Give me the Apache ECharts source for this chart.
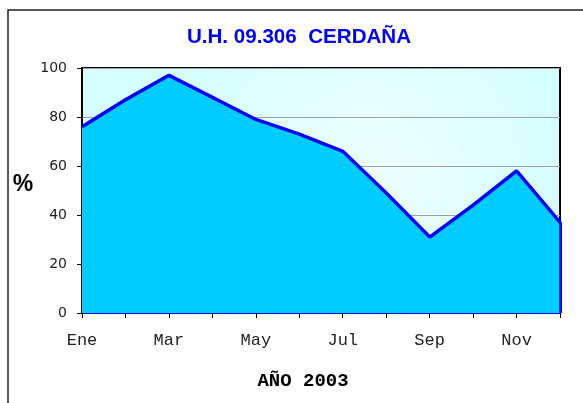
<!DOCTYPE html>
<html>
<head>
<meta charset="utf-8">
<script src="https://cdn.jsdelivr.net/npm/echarts@6/dist/echarts.min.js"></script>
<style>
  html, body { margin: 0; padding: 0; background: #fff; }
  #chart { width: 583px; height: 403px; }
</style>
</head>
<body>
<div id="chart"></div>
<script>
    const months = ['Ene', 'Feb', 'Mar', 'Abr', 'May', 'Jun', 'Jul', 'Ago', 'Sep', 'Oct', 'Nov', 'Dic'];
    const values = [76, 87, 97, 88, 79, 73, 66, 49, 31, 44, 58, 37];
    const yTicks = [0, 20, 40, 60, 80, 100];

    const chart = echarts.init(document.getElementById('chart'));

    chart.setOption({
        animation: false,
        backgroundColor: '#ffffff',
        graphic: [
            {
                type: 'rect',
                shape: { x: 8, y: 10, width: 700, height: 500 },
                style: { fill: 'none', stroke: '#222', lineWidth: 1.5 },
                silent: true
            },
            {
                type: 'text',
                x: 299, y: 37,
                scaleX: 0.98,
                style: {
                    text: 'U.H. 09.306  CERDAÑA',
                    fill: '#0000ff',
                    font: 'bold 21px "Liberation Sans", Arial, sans-serif',
                    textAlign: 'center',
                    textVerticalAlign: 'middle'
                }
            },
            {
                type: 'text',
                x: 23, y: 185,
                style: {
                    text: '%',
                    fill: '#000',
                    font: 'bold 23px "Liberation Sans", Arial, sans-serif',
                    textAlign: 'center',
                    textVerticalAlign: 'middle'
                }
            },
            {
                type: 'text',
                x: 303, y: 381,
                style: {
                    text: 'AÑO 2003',
                    fill: '#000',
                    font: 'bold 19px "Liberation Mono", "Courier New", monospace',
                    textAlign: 'center',
                    textVerticalAlign: 'middle'
                }
            }
        ],
        grid: {
            left: 82,
            right: 23,
            top: 68,
            bottom: 90,
            show: true,
            borderColor: '#000',
            borderWidth: 2,
            backgroundColor: {
                type: 'radial',
                x: 0.6, y: 0.45, r: 0.8,
                colorStops: [
                    { offset: 0, color: '#eeffff' },
                    { offset: 1, color: '#d6ffff' }
                ]
            }
        },
        xAxis: {
            type: 'category',
            boundaryGap: false,
            data: months,
            axisLine: { lineStyle: { color: '#0000ee', width: 2 } },
            axisTick: { show: true, interval: 0, length: 5, lineStyle: { color: '#000' } },
            axisLabel: {
                interval: 1,
                margin: 19,
                color: '#222',
                fontFamily: '"Liberation Mono", "Courier New", monospace',
                fontSize: 17
            },
            splitLine: { show: false }
        },
        yAxis: {
            type: 'value',
            min: yTicks[0],
            max: yTicks[yTicks.length - 1],
            interval: 20,
            axisLine: { show: true, lineStyle: { color: '#000', width: 2 } },
            axisTick: { show: true, length: 5, lineStyle: { color: '#000' } },
            axisLabel: {
                margin: 15,
                color: '#222',
                fontFamily: '"DejaVu Sans", Verdana, sans-serif',
                fontSize: 14
            },
            splitLine: { show: true, lineStyle: { color: '#a0a0a0', width: 1 } }
        },
        series: [{
            type: 'line',
            data: values,
            symbol: 'none',
            lineStyle: { color: '#0000ff', width: 3.5 },
            areaStyle: { color: '#00ccff', opacity: 1 },
            markLine: {
                silent: true,
                symbol: 'none',
                label: { show: false },
                lineStyle: { color: '#0000ff', width: 3, type: 'solid' },
                data: [[
                    { coord: [months[months.length - 1], 0] },
                    { coord: [months[months.length - 1], values[values.length - 1]] }
                ]]
            }
        }]
    });
</script>
</body>
</html>
